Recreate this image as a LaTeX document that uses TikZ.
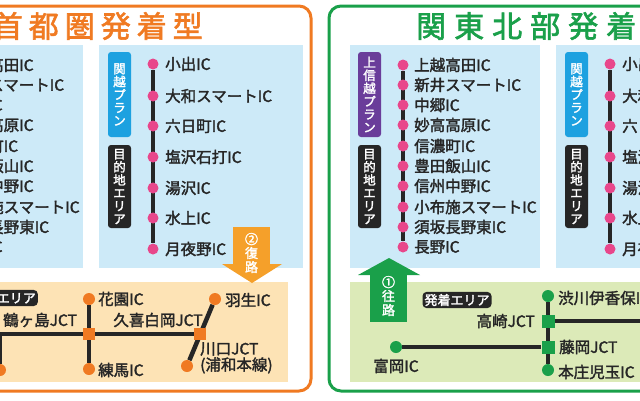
\documentclass[tikz,border=0pt]{standalone}
\usepackage{fontspec}
\setmainfont{Noto Sans CJK JP}[AutoFakeBold=2]
\usetikzlibrary{shapes.geometric}
\definecolor{skyp}{HTML}{CDEAF8}
\definecolor{pinkd}{HTML}{E8478B}
\definecolor{purp}{HTML}{6A3D9A}
\definecolor{cyanl}{HTML}{1DA1E0}
\definecolor{orng}{HTML}{F07A22}
\definecolor{orarrow}{HTML}{F5A02A}
\definecolor{beige}{HTML}{FDE3B5}
\definecolor{grn}{HTML}{1AA04A}
\definecolor{lgrn}{HTML}{DCEAB8}
\pgfdeclarelayer{bgzero}
\pgfdeclarelayer{background}
\pgfsetlayers{bgzero,background,main}
\tikzset{
  vlabel/.style={fill=#1,rounded corners=3pt,text=white,font=\bfseries\fontsize{12.5}{13}\selectfont,align=center,inner sep=0pt,minimum width=23pt},
  pdot/.style={circle,fill=pinkd,inner sep=0pt,minimum size=11pt},
  odot/.style={circle,fill=orng,inner sep=0pt,minimum size=12pt},
  gdot/.style={circle,fill=grn,inner sep=0pt,minimum size=12pt},
  osq/.style={fill=orng,inner sep=0pt,minimum size=12pt},
  gsq/.style={fill=grn,inner sep=0pt,minimum size=13pt},
  ictext/.style={font=\bfseries\fontsize{15.5}{16}\selectfont,text=black!85,inner sep=1pt},
  road/.style={line width=4.5pt,black!85},
  rail/.style={line width=4pt,black!85},
  blacklab/.style={fill=black!85,rounded corners=4pt,text=white,font=\bfseries\fontsize{13}{14}\selectfont,inner sep=2pt},
  title/.style={font=\bfseries\fontsize{30}{32}\selectfont,inner sep=0pt}
}
\newcommand\topsection[2]{%
\begin{scope}[xshift=#2]
  \begin{pgfonlayer}{bgzero}
  \fill[skyp] (350,45) rectangle (540,268);
  \fill[skyp] (556,45) rectangle (760,268);
  \end{pgfonlayer}
  \node[vlabel=purp,minimum height=85pt] (#1pa) at (369.5,94.5) {上\\信\\越\\プ\\ラ\\ン};
  \node[vlabel=black!85,minimum height=83pt] (#1da) at (369.5,186.5) {目\\的\\地\\エ\\リ\\ア};
  \node[vlabel=cyanl,minimum height=85pt] (#1pb) at (576.5,94.5) {関\\越\\プ\\ラ\\ン};
  \node[vlabel=black!85,minimum height=83pt] (#1db) at (576.5,186.5) {目\\的\\地\\エ\\リ\\ア};
  \foreach \y/\t [count=\i] in {65/上越高田IC,85/新井スマートIC,105/中郷IC,125/妙高高原IC,146/信濃町IC,166/豊田飯山IC,186/信州中野IC,207/小布施スマートIC,227/須坂長野東IC,247/長野IC}{
    \node[pdot] (#1a\i) at (403,\y) {};
    \node[ictext,anchor=west] (#1at\i) at (413,\y) {\t};
  }
  \foreach \y/\t [count=\i] in {64/小出IC,96/大和スマートIC,126/六日町IC,157/塩沢石打IC,188/湯沢IC,218/水上IC,249/月夜野IC}{
    \node[pdot] (#1b\i) at (610,\y) {};
    \node[ictext,anchor=west] (#1bt\i) at (621,\y) {\t};
  }
  \begin{pgfonlayer}{background}
  \draw[rail] (#1a1) -- (#1a10);
  \draw[rail] (#1b1) -- (#1b7);
  \end{pgfonlayer}
\end{scope}}
\begin{document}
\begin{tikzpicture}[x=1pt,y=-1pt]
\useasboundingbox (0,0) rectangle (640,400);
\clip (0,0) rectangle (640,400);
\begin{pgfonlayer}{bgzero}
\fill[white] (0,0) rectangle (640,400);
\fill[beige] (-40,282) rectangle (288,382);
\fill[lgrn] (350,282) rectangle (700,382);
\end{pgfonlayer}
% frames
\draw[orng,line width=3pt,rounded corners=12pt] (-40,6) rectangle (311,391);
\draw[grn,line width=3pt,rounded corners=12pt] (329,6) rectangle (700,391);
\node[title,text=orng,anchor=east] (t1) at (203,26) {首\hspace{6pt}都\hspace{6pt}圏\hspace{6pt}発\hspace{6pt}着\hspace{6pt}型};
\node[title,text=grn,anchor=west] (t2) at (416,26) {関\hspace{8pt}東\hspace{8pt}北\hspace{8pt}部\hspace{8pt}発\hspace{8pt}着\hspace{8pt}型};
\topsection{L}{-457}
\topsection{R}{0}
% ---- left bottom
\node[fill=orarrow,minimum width=37pt,minimum height=38pt,inner sep=0pt] (ret) at (251.5,246) {};
\fill[orarrow] (222,264) -- (282,264) -- (252,283) -- cycle;
\node[text=white,font=\bfseries\fontsize{13}{14}\selectfont,align=center,inner sep=0pt] (retT) at (251.5,253) {②\\復\\路};
\node[blacklab,anchor=east] (lab1) at (38,298) {発着エリア};
\coordinate (w0) at (-20,334);
\coordinate (wj) at (0,334);
\node[odot] (tsuru) at (0,370) {};
\node[osq] (hana) at (89,334) {};
\node[osq] (kuki) at (200,334) {};
\node[odot] (hanazono) at (89,299) {};
\node[odot] (nerima) at (89,369) {};
\node[odot] (hanyu) at (215,299) {};
\node[odot] (kawa) at (187,366) {};
\begin{pgfonlayer}{background}
\draw[road] (w0) -- (hana) -- (kuki);
\draw[road] (wj) -- (tsuru);
\draw[road] (hanazono) -- (nerima);
\draw[road] (hanyu) -- (kawa);
\end{pgfonlayer}
\node[ictext,anchor=west] (tsuruT) at (2,320) {鶴ヶ島JCT};
\node[ictext,anchor=west] (hanazT) at (97,299) {花園IC};
\node[ictext,anchor=west] (nerT) at (97,370) {練馬IC};
\node[ictext] (kukiT) at (158,320) {久喜白岡JCT};
\node[ictext,anchor=west] (hanyuT) at (224,300) {羽生IC};
\node[ictext,anchor=north west,align=left] (kawaT) at (199,341) {川口JCT\\(浦和本線)};
% ---- right bottom
\node[fill=grn,minimum width=37pt,minimum height=48pt,inner sep=0pt] (out) at (388.5,298) {};
\fill[grn] (358,275) -- (420,275) -- (389,258) -- cycle;
\node[text=white,font=\bfseries\fontsize{13}{14}\selectfont,align=center,inner sep=0pt] (outT) at (388.5,296) {①\\往\\路};
\node[blacklab] (lab2) at (457,300) {発着エリア};
\node[gdot] (shibu) at (548,296) {};
\node[gsq] (taka) at (548,321) {};
\node[gsq] (fuji) at (548,347) {};
\node[gdot] (honjo) at (548,370) {};
\node[gdot] (tomi) at (396,347) {};
\coordinate (e0) at (660,321);
\begin{pgfonlayer}{background}
\draw[road] (shibu) -- (honjo);
\draw[road] (taka) -- (e0);
\draw[road] (tomi) -- (fuji);
\end{pgfonlayer}
\node[ictext,anchor=west] (shibuT) at (557,298) {渋川伊香保IC};
\node[ictext,anchor=east] (takaT) at (536,321) {高崎JCT};
\node[ictext,anchor=west] (fujiT) at (558,347) {藤岡JCT};
\node[ictext,anchor=west] (honjoT) at (557,372) {本庄児玉IC};
\node[ictext] (tomiT) at (396,366) {富岡IC};
\end{tikzpicture}
\end{document}
